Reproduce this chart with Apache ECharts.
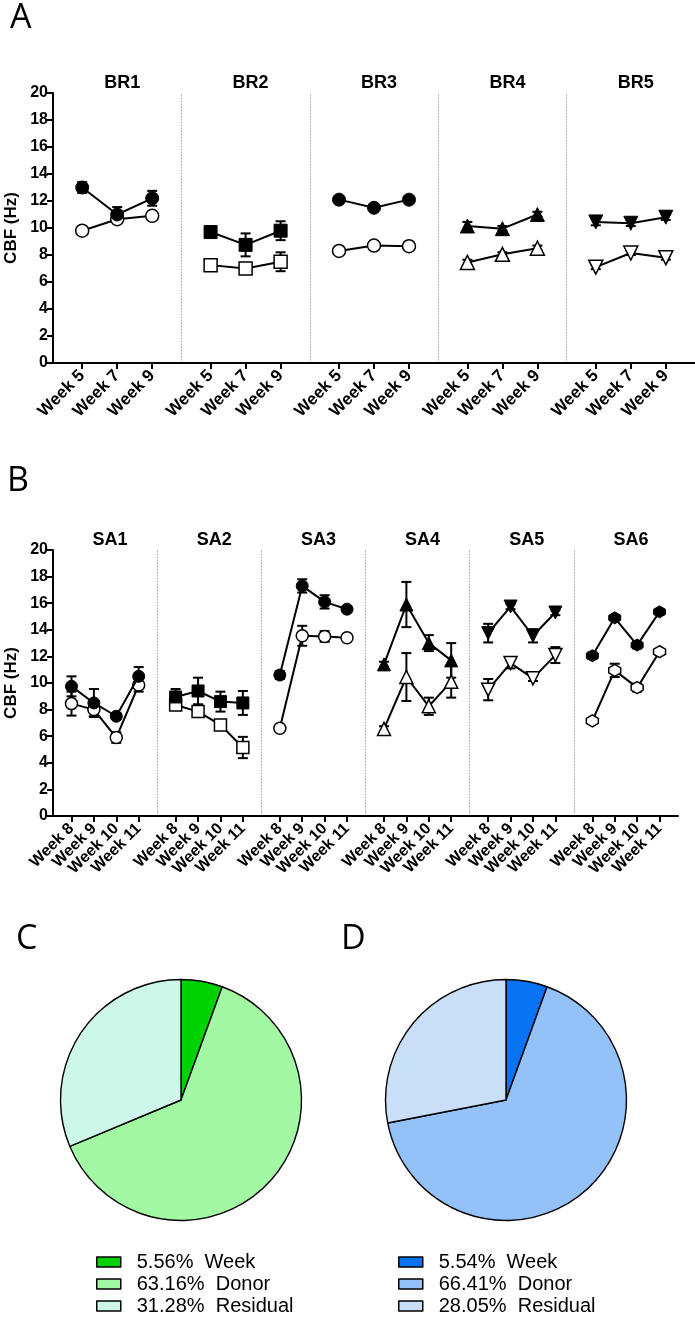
<!DOCTYPE html>
<html><head><meta charset="utf-8">
<script src="https://cdn.jsdelivr.net/npm/echarts@6/dist/echarts.min.js"></script>
<style>html,body{margin:0;padding:0;background:#fff}#c{width:695px;height:1317px}</style>
</head><body><div id="c"></div>
<script>
// ---------- data ----------
const brWeeks = ['Week 5', 'Week 7', 'Week 9'];
const saWeeks = ['Week 8', 'Week 9', 'Week 10', 'Week 11'];
const brNames = ['BR1', 'BR2', 'BR3', 'BR4', 'BR5'];
const saNames = ['SA1', 'SA2', 'SA3', 'SA4', 'SA5', 'SA6'];
const yTicks = [0, 2, 4, 6, 8, 10, 12, 14, 16, 18, 20];

const brFilled    = [[13.0, 11.0, 12.2], [9.7, 8.75, 9.8], [12.1, 11.5, 12.1], [10.15, 9.95, 11.0], [10.45, 10.35, 10.8]];
const brFilledErr = [[0.4, 0.55, 0.55], [0.3, 0.85, 0.7], [0.15, 0.15, 0.15], [0.3, 0.2, 0.2], [0.25, 0.2, 0.2]];
const brOpen      = [[9.8, 10.65, 10.9], [7.25, 7.0, 7.5], [8.3, 8.7, 8.65], [7.45, 8.05, 8.5], [7.1, 8.15, 7.8]];
const brOpenErr   = [[0.15, 0.2, 0.2], [0.2, 0.15, 0.7], [0.1, 0.1, 0.1], [0.2, 0.15, 0.2], [0.15, 0.15, 0.15]];

const saFilled    = [[9.75, 8.5, 7.5, 10.5], [8.95, 9.4, 8.6, 8.5], [10.6, 17.3, 16.1, 15.55], [11.4, 15.9, 13.0, 11.7], [13.75, 15.75, 13.55, 15.3], [12.05, 14.9, 12.85, 15.35]];
const saFilledErr = [[0.75, 1.05, 0.2, 0.7], [0.6, 1.0, 0.75, 0.9], [0.3, 0.5, 0.5, 0.2], [0.2, 1.7, 0.6, 1.3], [0.7, 0.2, 0.5, 0.2], [0.25, 0.15, 0.25, 0.15]];
const saOpen      = [[8.45, 8.0, 5.9, 9.85], [8.35, 7.85, 6.85, 5.15], [6.6, 13.55, 13.5, 13.4], [6.55, 10.45, 8.25, 10.1], [9.5, 11.5, 10.35, 12.1], [7.15, 10.95, 9.65, 12.35]];
const saOpenErr   = [[0.9, 0.5, 0.4, 0.5], [0.2, 0.3, 0.2, 0.8], [0.1, 0.75, 0.4, 0.1], [0.2, 1.8, 0.65, 1.2], [0.8, 0.4, 0.2, 0.6], [0.15, 0.5, 0.3, 0.15]];

const pieNames = ['Week', 'Donor', 'Residual'];
const pieCValues = [5.56, 63.16, 31.28];
const pieDValues = [5.54, 66.41, 28.05];

// ---------- styles ----------
const HEX = 'path://M0.5,0 L1,0.29 L1,0.71 L0.5,1 L0,0.71 L0,0.29 Z';
const brSymbols = [['circle', 0], ['rect', 0], ['circle', 0], ['triangle', 0], ['triangle', 180]];
const saSymbols = [['circle', 0], ['rect', 0], ['circle', 0], ['triangle', 0], ['triangle', 180], [HEX, 0]];
const greenColors = ['#00d100', '#a3f9a3', '#cdf7e8'];
const blueColors = ['#0874f4', '#94c1f7', '#c9dff8'];
const FONT = 'Liberation Sans, Arial, sans-serif';

const grids = [], xAxes = [], yAxes = [], series = [], titles = [];

function errRender(params, api) {
  const x = api.value(0), y = api.value(1), e = api.value(2);
  const t = api.coord([x, y + e]), b = api.coord([x, y - e]);
  const hw = 5, st = { stroke: '#000', lineWidth: 2 };
  return { type: 'group', children: [
    { type: 'line', shape: { x1: t[0], y1: t[1], x2: b[0], y2: b[1] }, style: st },
    { type: 'line', shape: { x1: t[0] - hw, y1: t[1], x2: t[0] + hw, y2: t[1] }, style: st },
    { type: 'line', shape: { x1: b[0] - hw, y1: b[1], x2: b[0] + hw, y2: b[1] }, style: st }
  ] };
}

function addPanel(opts) {
  const { names, weeks, filled, filledErr, open, openErr, symbols, left, width, top, height, titleTop, symSize, labelSize } = opts;
  const n = weeks.length;
  names.forEach((nm, p) => {
    const gi = grids.length;
    const gl = left + p * width;
    grids.push({ left: gl, top: top, width: width, height: height, containLabel: false });
    const units = width / opts.step;
    const pad = (units - (n - 1)) / 2;
    const vals = weeks.map((_, i) => i);
    xAxes.push({
      type: 'value', gridIndex: gi, min: -pad, max: (n - 1) + pad,
      splitLine: { show: false },
      axisLine: { show: true, onZero: false, lineStyle: { color: '#000', width: 2 } },
      axisTick: { show: true, customValues: vals, length: 6, lineStyle: { color: '#000', width: 2 } },
      axisLabel: { customValues: vals, formatter: v => weeks[Math.round(v)], rotate: 45, margin: 10, hideOverlap: false,
        fontWeight: 'bold', fontSize: labelSize, color: '#000', fontFamily: FONT }
    });
    const first = p === 0;
    yAxes.push({
      type: 'value', gridIndex: gi, min: 0, max: 20, interval: 2,
      splitLine: { show: false },
      name: first ? 'CBF (Hz)' : '', nameLocation: 'middle', nameGap: 33,
      nameTextStyle: { fontWeight: 'bold', fontSize: 17, color: '#000', fontFamily: FONT },
      axisLine: { show: true, onZero: false, lineStyle: first ? { color: '#000', width: 2 } : { color: '#aaa', width: 1, type: [1, 2] } },
      axisTick: { show: first, length: 6, lineStyle: { color: '#000', width: 2 } },
      axisLabel: { show: first, fontWeight: 'bold', fontSize: 16, color: '#000', fontFamily: FONT, margin: 5,
        customValues: yTicks }
    });
    titles.push({ text: nm, left: gl + width / 2, top: titleTop, textAlign: 'center',
      textStyle: { fontWeight: 'bold', fontSize: 18, color: '#000', fontFamily: FONT } });
    const [sym, rot] = symbols[p];
    const sz = sym === 'triangle' ? symSize + 1 : symSize;
    series.push({ type: 'custom', xAxisIndex: gi, yAxisIndex: gi, z: 2, renderItem: errRender,
      data: filled[p].map((v, i) => [i, v, filledErr[p][i]]) });
    series.push({ type: 'custom', xAxisIndex: gi, yAxisIndex: gi, z: 2, renderItem: errRender,
      data: open[p].map((v, i) => [i, v, openErr[p][i]]) });
    series.push({ type: 'line', xAxisIndex: gi, yAxisIndex: gi, z: 3, symbol: sym, symbolRotate: rot, symbolSize: sz,
      lineStyle: { color: '#000', width: 2 }, itemStyle: { color: '#fff', borderColor: '#000', borderWidth: 1.5 },
      data: open[p].map((v, i) => [i, v]), showSymbol: true, animation: false });
    series.push({ type: 'line', xAxisIndex: gi, yAxisIndex: gi, z: 4, symbol: sym, symbolRotate: rot, symbolSize: sz,
      lineStyle: { color: '#000', width: 2 }, itemStyle: { color: '#000', borderColor: '#000', borderWidth: 1 },
      data: filled[p].map((v, i) => [i, v]), showSymbol: true, animation: false });
  });
}

addPanel({ names: brNames, weeks: brWeeks, filled: brFilled, filledErr: brFilledErr, open: brOpen, openErr: brOpenErr,
  symbols: brSymbols, left: 53, width: 128.4, top: 93, height: 270, titleTop: 69, step: 35, symSize: 13, labelSize: 17 });
addPanel({ names: saNames, weeks: saWeeks, filled: saFilled, filledErr: saFilledErr, open: saOpen, openErr: saOpenErr,
  symbols: saSymbols, left: 53, width: 104.17, top: 550, height: 266, titleTop: 526, step: 22.4, symSize: 12, labelSize: 16 });

// panel letters
[['A', 5, -4], ['B', 2, 459], ['C', 11, 917], ['D', 336, 917]].forEach(([t, l, tp]) => {
  titles.push({ text: t, left: l, top: tp, textStyle: { fontSize: 34, fontWeight: 'normal', color: '#000', fontFamily: 'Open Sans, Noto Sans, sans-serif' } });
});

function pieSeries(prefix, values, colors, cx) {
  return { type: 'pie', center: [cx, 1100], radius: [0, 120.5], startAngle: 90, clockwise: true,
    label: { show: false }, labelLine: { show: false }, silent: true, animation: false,
    itemStyle: { borderColor: '#000', borderWidth: 1.4 },
    data: values.map((v, i) => ({ name: prefix + pieNames[i], value: v, itemStyle: { color: colors[i] } })) };
}
series.push(pieSeries('C:', pieCValues, greenColors, 181));
series.push(pieSeries('D:', pieDValues, blueColors, 506));

function legendFor(prefix, values, left) {
  return { orient: 'vertical', left: left, top: 1252, padding: 0, itemWidth: 24, itemHeight: 10, itemGap: 2,
    icon: 'rect', selectedMode: false,
    itemStyle: { borderColor: '#000', borderWidth: 1.5 },
    data: pieNames.map(n => prefix + n),
    formatter: name => { const i = pieNames.indexOf(name.slice(2)); return values[i].toFixed(2) + '%  ' + pieNames[i]; },
    textStyle: { fontSize: 20, lineHeight: 20, color: '#000', fontFamily: FONT, padding: [0, 0, 0, 11] } };
}

const chart = echarts.init(document.getElementById('c'), null, { renderer: 'canvas' });
chart.setOption({
  animation: false,
  backgroundColor: '#fff',
  title: titles,
  grid: grids,
  xAxis: xAxes,
  yAxis: yAxes,
  legend: [legendFor('C:', pieCValues, 96), legendFor('D:', pieDValues, 398)],
  series: series
});
</script>
</body></html>
